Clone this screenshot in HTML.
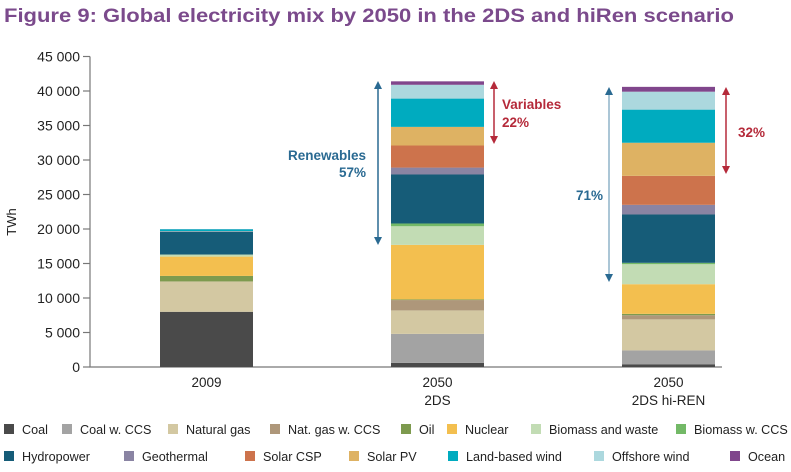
<!DOCTYPE html>
<html><head><meta charset="utf-8"><style>
body{margin:0;background:#fff;width:791px;height:467px;overflow:hidden;font-family:"Liberation Sans",sans-serif}
svg text{font-family:"Liberation Sans",sans-serif}
</style></head><body>
<svg id="chart" width="791" height="467" xmlns="http://www.w3.org/2000/svg">
<text x="4" y="22" font-size="19.5" font-weight="bold" fill="#7b4a8c" textLength="730" lengthAdjust="spacingAndGlyphs">Figure 9: Global electricity mix by 2050 in the 2DS and hiRen scenario</text>
<text transform="translate(16,222) rotate(-90)" font-size="13" text-anchor="middle" fill="#222">TWh</text>
<g id="axes"></g><g id="bars"></g><g id="legend"></g>
<g font-size="13.5" font-weight="bold">
<line x1="378" y1="87" x2="378" y2="239" stroke="#2a6a92" stroke-width="1.5"/>
<polygon points="374,89 382,89 378,81" fill="#2a6a92"/><polygon points="374,237 382,237 378,245" fill="#2a6a92"/>
<text x="366" y="160" text-anchor="end" fill="#2a6a92">Renewables</text>
<text x="366" y="177" text-anchor="end" fill="#2a6a92">57%</text>
<line x1="494" y1="87" x2="494" y2="138" stroke="#b52a3a" stroke-width="1.5"/>
<polygon points="490,89 498,89 494,81" fill="#b52a3a"/><polygon points="490,136 498,136 494,144" fill="#b52a3a"/>
<text x="502" y="109" fill="#b52a3a">Variables</text>
<text x="502" y="127" fill="#b52a3a">22%</text>
<line x1="609" y1="92" x2="609" y2="276" stroke="#8fb3c9" stroke-width="1.5"/>
<polygon points="605,95 613,95 609,87" fill="#2a6a92"/><polygon points="605,274 613,274 609,282" fill="#2a6a92"/>
<text x="603" y="200" text-anchor="end" fill="#2a6a92">71%</text>
<line x1="726" y1="92" x2="726" y2="168" stroke="#b52a3a" stroke-width="1.5"/>
<polygon points="722,95 730,95 726,87" fill="#b52a3a"/><polygon points="722,166 730,166 726,174" fill="#b52a3a"/>
<text x="738" y="137" fill="#b52a3a">32%</text>
</g>
</svg>
<script>
const categories = ["2009", "2050|2DS", "2050|2DS hi-REN"];
const seriesNames = ["Coal","Coal w. CCS","Natural gas","Nat. gas w. CCS","Oil","Nuclear","Biomass and waste","Biomass w. CCS","Hydropower","Geothermal","Solar CSP","Solar PV","Land-based wind","Offshore wind","Ocean"];
const seriesColors = ["#4a4a4a","#a3a3a3","#d3c8a2","#ae977a","#7d9a4e","#f3bf4f","#c2dcb4","#73b967","#165c78","#8a84a3","#cd734c","#deb263","#00abbf","#acd8de","#80468c"];
const v2009 = [8000,0,4400,0,800,2800,300,0,3300,70,0,20,280,20,10];
const v2DS = [600,4200,3400,1500,100,7900,2700,400,7100,1000,3200,2700,4100,2000,500];
const vHiREN = [400,2000,4500,600,200,4300,2900,200,7000,1400,4200,4800,4800,2600,700];
const yTicks = [0,5000,10000,15000,20000,25000,30000,35000,40000,45000];
const tickLabels = ["0","5 000","10 000","15 000","20 000","25 000","30 000","35 000","40 000","45 000"];
const NS="http://www.w3.org/2000/svg";
const y0=367, pxPer=276/40000;
function yScale(v){return y0-v*pxPer;}
const barX=[160,391,622], barW=93;
function xScale(i){return barX[i];}
function mk(tag,attrs,parent){const e=document.createElementNS(NS,tag);for(const k in attrs)e.setAttribute(k,attrs[k]);parent.appendChild(e);return e;}
const axes=document.getElementById('axes');
const axisLine=mk('path',{d:`M90,${yScale(45000)} L90,${y0} L722,${y0}`,stroke:'#777',fill:'none','stroke-width':1.2},axes);


yTicks.forEach((t,i)=>{
  const tk=mk('line',{x1:83,x2:90,y1:yScale(t),y2:yScale(t),stroke:'#777','stroke-width':1.2},axes);
  
  
  const lb=mk('text',{x:80,y:yScale(t)+5,'text-anchor':'end','font-size':14,fill:'#222'},axes);
  lb.textContent=tickLabels[i];
  
  
});
const bars=document.getElementById('bars');
[v2009,v2DS,vHiREN].forEach((vals,ci)=>{
  let cum=0;
  vals.forEach((v,si)=>{
    if(v<=0)return;
    const r=mk('rect',{x:xScale(ci),y:yScale(cum+v),width:barW,height:v*pxPer,fill:seriesColors[si]},bars);
    
    
    cum+=v;
  });
  const lines=categories[ci].split('|');
  lines.forEach((l,li)=>{
    const t=mk('text',{x:xScale(ci)+barW/2,y:387+li*18,'text-anchor':'middle','font-size':13.5,fill:'#222'},bars);
    t.textContent=l;
    
    
  });
});
const legX=[[4,62,168,270,401,447,531,676],[4,124,245,349,448,594,730]];
const legend=document.getElementById('legend');
let k=0;
legX.forEach((row,ri)=>{row.forEach(x=>{
  const g=mk('g',{},legend);
  
  
  const yy=ri?457:430;
  mk('rect',{x:x,y:yy-6,width:10,height:10,fill:seriesColors[k]},g);
  const t=mk('text',{x:x+18,y:yy+4,'font-size':12.6,fill:'#222'},g);
  t.textContent=seriesNames[k];
  k++;
});});
</script>
</body></html>
